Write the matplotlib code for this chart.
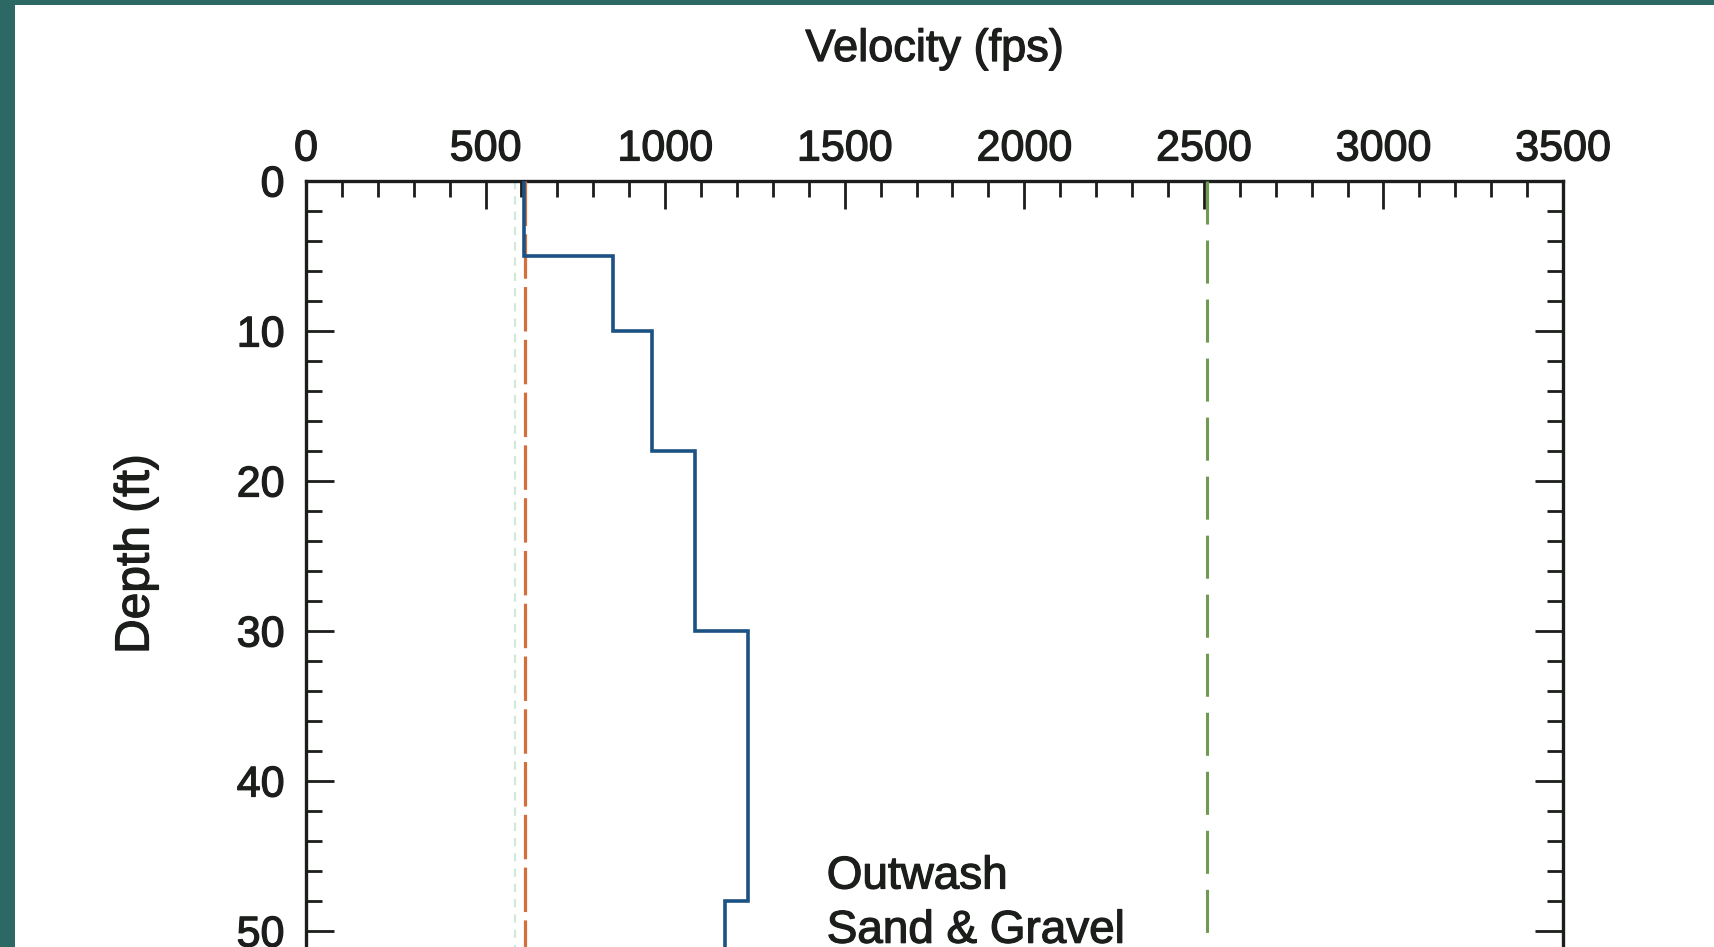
import numpy as np
import matplotlib
matplotlib.use("Agg")
import matplotlib.pyplot as plt
import matplotlib.patheffects as pe
from matplotlib import font_manager
from matplotlib.patches import Rectangle
from matplotlib.ticker import MultipleLocator

# layered velocity profile (tops of layers in ft, velocity in fps)
layer_tops = [0, 5, 10, 18, 30, 48]
layer_bottom = 60
layer_vel = [606, 855, 964, 1082, 1230, 1166]

# reference velocities drawn as dashed verticals
ref_low = 609
ref_high = 2510
ref_faint = 583

x_ticks = [0, 500, 1000, 1500, 2000, 2500, 3000, 3500]
y_ticks = [0, 10, 20, 30, 40, 50]


def pick_font(names):
    for n in names:
        try:
            font_manager.findfont(font_manager.FontProperties(family=n),
                                  fallback_to_default=False)
            return n
        except ValueError:
            pass
    return "DejaVu Sans"


plt.rcParams["font.family"] = pick_font(["Liberation Sans", "Arial", "DejaVu Sans"])
plt.rcParams["lines.scale_dashes"] = False

ink = "#1b1e1b"
heavy = [pe.withStroke(linewidth=0.9, foreground=ink)]
W, H = 1714, 947
fig = plt.figure(figsize=(W / 100, H / 100), dpi=100, facecolor="#2d6964")
fig.patches.append(Rectangle((15 / W, 0), 1, 1 - 5 / H, transform=fig.transFigure,
                             facecolor="white", edgecolor="none", zorder=-10))

# axes runs past the bottom edge of the figure
ax = fig.add_axes([306 / W, (H - 181 - 900) / H, 1257 / W, 900 / H])
ax.set_zorder(2)
ax.set_xlim(0, 3500)
ax.set_ylim(60, 0)

# step profile: vertical segment per layer joined by horizontals
bottoms = layer_tops[1:] + [layer_bottom]
xs = np.repeat(layer_vel, 2)
ys = np.ravel(np.column_stack([layer_tops, bottoms]))
ax.plot(xs, ys, color="#1b5283", lw=2.6, solid_joinstyle="miter", zorder=4)

ax.plot([ref_faint, ref_faint], [0, layer_bottom], color="#d3e8da", lw=1.6,
        linestyle=(0, (6, 5)), zorder=2)
ax.plot([ref_low, ref_low], [0, layer_bottom], color="#d46e3a", lw=2.3,
        linestyle=(0, (32, 6)), zorder=3)
ax.plot([ref_high, ref_high], [0, layer_bottom], color="#6e9a52", lw=2.2,
        linestyle=(0, (31, 11.5)), zorder=3)

note = ax.text(1450, 44.9, "Outwash\nSand & Gravel", fontsize=33,
               color=ink, ha="left", va="top", linespacing=1.3)

ax.xaxis.tick_top()
ax.set_xticks(x_ticks)
ax.set_yticks(y_ticks)
ax.xaxis.set_minor_locator(MultipleLocator(100))
ax.yaxis.set_minor_locator(MultipleLocator(2))
ax.tick_params(which="both", direction="in", top=True, bottom=True, left=True,
               right=True, color=ink, width=2.0)
ax.tick_params(which="major", length=20)
ax.tick_params(which="minor", length=11.5)
ax.tick_params(axis="x", which="major", labelsize=31, pad=8.3, labelcolor=ink)
ax.tick_params(axis="y", which="major", labelsize=31, pad=15.5, labelcolor=ink)
for s in ax.spines.values():
    s.set_linewidth(2.4)
    s.set_color(ink)

xlab = fig.text(934.5 / W, 1 - 61 / H, "Velocity (fps)", fontsize=32.5, color=ink,
                ha="center", va="baseline")
ylab = fig.text(136 / W, 1 - 554 / H, "Depth (ft)", fontsize=34.5, color=ink,
                rotation=90, ha="center", va="center")

for t in ax.get_xticklabels() + ax.get_yticklabels() + [note, xlab, ylab]:
    t.set_path_effects(heavy)

fig.savefig("out.png", dpi=100, facecolor=fig.get_facecolor())
